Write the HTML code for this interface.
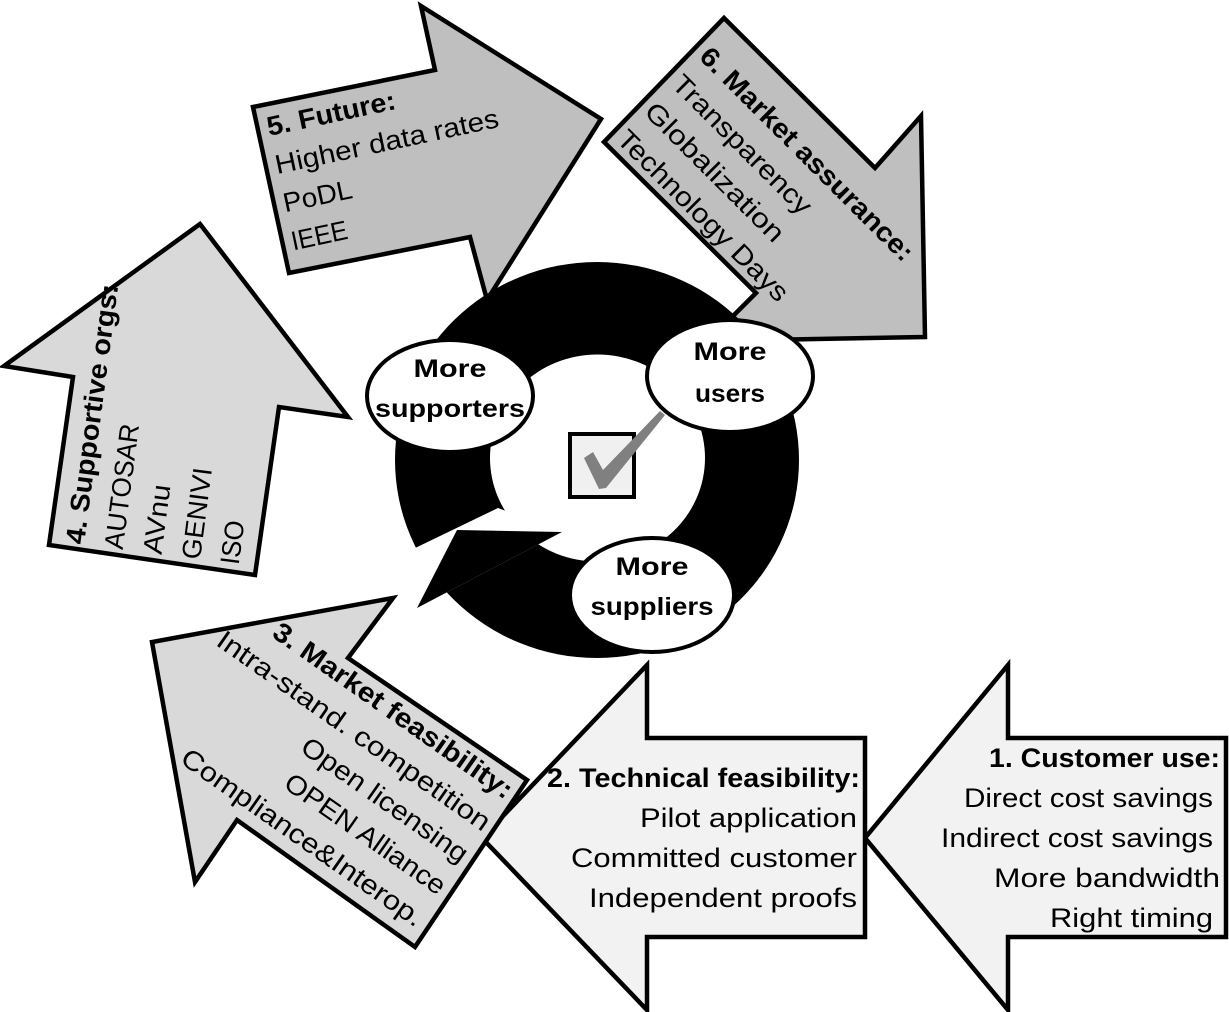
<!DOCTYPE html>
<html><head><meta charset="utf-8"><style>
html,body{margin:0;padding:0;background:#fff;}
svg{display:block;}
text{font-family:"Liberation Sans",sans-serif;font-size:27px;fill:#000;}
.b{font-weight:bold;}
</style></head><body>
<svg width="1229" height="1012" viewBox="0 0 1229 1012" xmlns="http://www.w3.org/2000/svg">
<g stroke="#000" stroke-width="4.5" stroke-linejoin="miter">
<polygon points="200,224 348,417 279,407 255,575 49,545 73,377 4,366" fill="#d9d9d9"/>
<polygon points="253,107 435,70 421,6 601,119 487,300 470,237 289,273" fill="#bfbfbf"/>
<polygon points="724,18 875,168 921,116 925,337 708,341 756,293 604,142" fill="#bfbfbf"/>
</g>
<g transform="translate(84,545) rotate(-82.5)">
<text class="b" x="0" y="0" textLength="262" lengthAdjust="spacingAndGlyphs">4. Supportive orgs:</text>
<text x="0" y="39" textLength="126" lengthAdjust="spacingAndGlyphs">AUTOSAR</text>
<text x="0" y="78" textLength="70" lengthAdjust="spacingAndGlyphs">AVnu</text>
<text x="0" y="117" textLength="92" lengthAdjust="spacingAndGlyphs">GENIVI</text>
<text x="0" y="156" textLength="44" lengthAdjust="spacingAndGlyphs">ISO</text>
</g>
<g transform="translate(269,136) rotate(-12)">
<text class="b" x="0" y="0" textLength="131" lengthAdjust="spacingAndGlyphs">5. Future:</text>
<text x="0" y="39" textLength="228" lengthAdjust="spacingAndGlyphs">Higher data rates</text>
<text x="0" y="78" textLength="70" lengthAdjust="spacingAndGlyphs">PoDL</text>
<text x="0" y="117" textLength="57" lengthAdjust="spacingAndGlyphs">IEEE</text>
</g>
<g transform="translate(698,58) rotate(45)">
<text class="b" x="0" y="0" textLength="290" lengthAdjust="spacingAndGlyphs">6. Market assurance:</text>
<text x="0" y="39" textLength="185" lengthAdjust="spacingAndGlyphs">Transparency</text>
<text x="0" y="78" textLength="185" lengthAdjust="spacingAndGlyphs">Globalization</text>
<text x="0" y="117" textLength="230" lengthAdjust="spacingAndGlyphs">Technology Days</text>
</g>
<path fill-rule="evenodd" fill="#000" d="M395,460 a202,198 0 1,0 404,0 a202,198 0 1,0 -404,0 Z M490,458 a107.5,103.5 0 1,0 215,0 a107.5,103.5 0 1,0 -215,0 Z"/>
<polygon points="498,508 380,565 417,608 562,532" fill="#fff"/>
<polygon points="457,530 562,532 417,608" fill="#000"/>
<g stroke="#000" stroke-width="4" fill="#fff">
<ellipse cx="450" cy="396" rx="83" ry="56"/>
<ellipse cx="730" cy="376" rx="83" ry="56"/>
<ellipse cx="652" cy="595" rx="82" ry="57"/>
</g>
<text class="b" x="450" y="377" style="font-size:25px" text-anchor="middle" textLength="73" lengthAdjust="spacingAndGlyphs">More</text>
<text class="b" x="450" y="417" style="font-size:25px" text-anchor="middle" textLength="150" lengthAdjust="spacingAndGlyphs">supporters</text>
<text class="b" x="730" y="360" style="font-size:25px" text-anchor="middle" textLength="73" lengthAdjust="spacingAndGlyphs">More</text>
<text class="b" x="730" y="402" style="font-size:25px" text-anchor="middle" textLength="70" lengthAdjust="spacingAndGlyphs">users</text>
<text class="b" x="652" y="575" style="font-size:25px" text-anchor="middle" textLength="73" lengthAdjust="spacingAndGlyphs">More</text>
<text class="b" x="652" y="615" style="font-size:25px" text-anchor="middle" textLength="123" lengthAdjust="spacingAndGlyphs">suppliers</text>
<rect x="570" y="434" width="64" height="63" fill="#f0f0f0" stroke="#000" stroke-width="4"/>
<polygon points="584,458 593,452 603,470 660,411 665,415 606,488 599,489" fill="#808080"/>
<g stroke="#000" stroke-width="4.5" stroke-linejoin="miter">
<polygon points="1008,665 1008,738 1226,738 1226,937 1008,937 1008,1010 865,838" fill="#f2f2f2"/>
<polygon points="647,665 647,738 865,738 865,937 647,937 647,1010 482,838" fill="#f2f2f2"/>
<polygon points="393,598 348,658 527,780 415,947 237,820 195,882 152,642" fill="#d9d9d9"/>
</g>
<text class="b" x="989" y="767" textLength="231" lengthAdjust="spacingAndGlyphs">1. Customer use:</text>
<text x="964" y="807" textLength="249" lengthAdjust="spacingAndGlyphs">Direct cost savings</text>
<text x="941" y="847" textLength="272" lengthAdjust="spacingAndGlyphs">Indirect cost savings</text>
<text x="994" y="887" textLength="226" lengthAdjust="spacingAndGlyphs">More bandwidth</text>
<text x="1050" y="927" textLength="163" lengthAdjust="spacingAndGlyphs">Right timing</text>
<text class="b" x="547" y="787" textLength="313" lengthAdjust="spacingAndGlyphs">2. Technical feasibility:</text>
<text x="640" y="827" textLength="217" lengthAdjust="spacingAndGlyphs">Pilot application</text>
<text x="571" y="867" textLength="286" lengthAdjust="spacingAndGlyphs">Committed customer</text>
<text x="589" y="907" textLength="268" lengthAdjust="spacingAndGlyphs">Independent proofs</text>
<g transform="translate(505,800) rotate(35)">
<text class="b" x="-286" y="0" textLength="286" lengthAdjust="spacingAndGlyphs">3. Market feasibility:</text>
<text x="-327" y="39" textLength="327" lengthAdjust="spacingAndGlyphs">Intra-stand. competition</text>
<text x="-197" y="78" textLength="197" lengthAdjust="spacingAndGlyphs">Open licensing</text>
<text x="-190" y="117" textLength="190" lengthAdjust="spacingAndGlyphs">OPEN Alliance</text>
<text x="-289" y="156" textLength="289" lengthAdjust="spacingAndGlyphs">Compliance&amp;Interop.</text>
</g>
</svg>
</body></html>
